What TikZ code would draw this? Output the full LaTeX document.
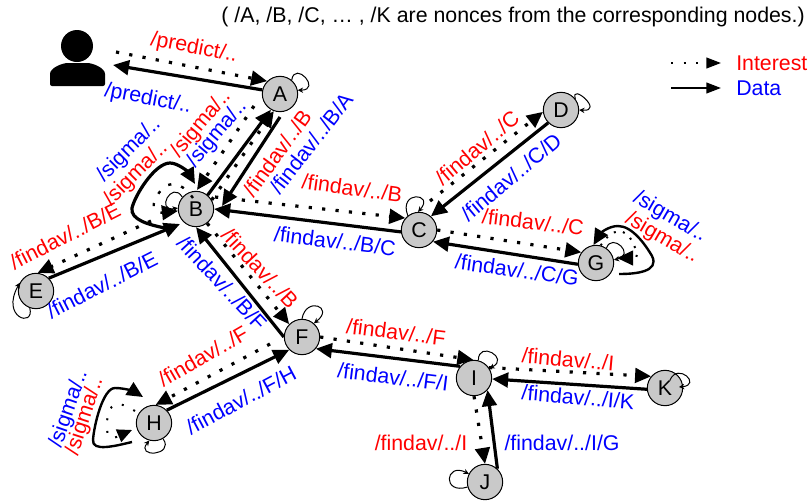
\documentclass[tikz,border=0pt]{standalone}
\usepackage{fontspec}
\setmainfont{Liberation Sans}
\usetikzlibrary{arrows.meta}
\tikzset{
  x=0.75pt,y=-0.75pt,
  nd/.style={circle,draw=black,line width=0.75pt,fill=black!21,minimum size=26.5pt,inner sep=0pt,font=\fontsize{16}{18}\selectfont},
  bigtip/.style={-{Triangle[length=12pt,width=11pt]}},
  intr/.style={bigtip,line width=2.4pt,dash pattern=on 2.4pt off 7.7pt},
  dat/.style={bigtip,line width=2.4pt},
  lp/.style={line width=0.75pt,-{Stealth[length=4pt,width=4pt]}},
  lab/.style={inner sep=0pt,font=\fontsize{16}{18}\selectfont},
  redl/.style={lab,text=red},
  blul/.style={lab,text=blue},
  blk/.style={lab,text=black}
}
\begin{document}
\begin{tikzpicture}
\useasboundingbox (0,0) rectangle (810,500);
% nodes
\node[nd] (A) at (280,94) {A};
\node[nd] (B) at (196,209) {B};
\node[nd] (C) at (419,230) {C};
\node[nd] (D) at (561,110) {D};
\node[nd] (E) at (36,291) {E};
\node[nd] (F) at (302,337) {F};
\node[nd] (G) at (596,263) {G};
\node[nd] (H) at (154,423) {H};
\node[nd] (I) at (474,378) {I};
\node[nd] (J) at (485,482) {J};
\node[nd] (K) at (665,388) {K};
% user icon
\node[circle,fill=black,minimum size=24pt,inner sep=0pt] (userhead) at (77,46) {};
\fill[rounded corners=1.5pt] (50,86) -- (50,76) .. controls (50,68) and (62,63) .. (70,63) -- (85,63) .. controls (93,63) and (105,68) .. (105,76) -- (105,86) -- cycle;
\coordinate (userIn) at (116,52);
\coordinate (userOut) at (113,65);
% self loops
\draw[lp] (A.50) .. controls (295,60) and (322,90) .. (A.12);
\draw[lp] (B.139) .. controls (172,180) and (155,212) .. (B.177);
\draw[lp] (C.128) .. controls (398,190) and (435,193) .. (C.93);
\draw[lp] (D.38) .. controls (570,82) and (605,112) .. (D.0);
\draw[lp] (E.250) .. controls (35,328) and (0,318) .. (E.153);
\draw[lp] (F.90) .. controls (306,296) and (335,307) .. (F.49);
\draw[lp] (G.55) .. controls (612,232) and (636,255) .. (G.10);
\draw[lp] (H.300) .. controls (175,456) and (135,458) .. (H.255);
\draw[lp] (I.76) .. controls (478,340) and (510,358) .. (I.32);
\draw[lp] (J.196) .. controls (442,495) and (445,462) .. (J.153);
\draw[lp] ([shift={(5,-8)}]K.center) .. controls (678,362) and (702,385) .. ([shift={(14,-1)}]K.center);
% connectors
\draw[intr] (userIn) -- (A.135);
\draw[dat] (A.167) -- (userOut);
\draw[intr] ([shift={(-26,12)}]A.center) -- ([shift={(1,-19)}]B.center);
\draw[dat] (B.50) -- (A.240);
\draw[intr] (B.30) -- (A.250);
\draw[dat] ([shift={(0,23)}]A.center) -- ([shift={(26,-3)}]B.center);
\draw[intr] ([shift={(19,-12)}]B.center) -- (C.139);
\draw[dat] (C.186) -- (B.0);
\draw[intr] ([shift={(11,-29)}]C.center) -- (D.186);
\draw[dat] (D.225) -- (C.49);
\draw[intr] (C.0) -- (G.144);
\draw[dat] (G.184) -- (C.320);
\draw[intr] ([shift={(-45,12)}]B.center) -- (E.85);
\draw[dat] (E.45) -- ([shift={(-16,15)}]B.center);
\draw[intr] (B.308) -- (F.135);
\draw[dat] (F.180) -- (B.270);
\draw[intr] ([shift={(-32,7)}]F.center) -- (H.85);
\draw[dat] (H.45) -- (F.225);
\draw[intr] (F.0) -- (I.92);
\draw[dat] (I.140) -- (F.320);
\draw[intr] (I.35) -- (K.140);
\draw[dat] (K.184) -- (I.357);
\draw[intr] (I.270) -- (J.90);
\draw[dat] (J.47) -- (I.318);
% sigma loops
\draw[dat] ([shift={(-31,19)}]B.center) .. controls (150,225) and (130,220) .. (132,208) .. controls (135,195) and (155,163) .. (170,163) .. controls (178,163) and (188,172) .. ([shift={(-1,-25)}]B.center);
\draw[intr,line width=1.8pt] ([shift={(-3,-11)}]B.center) .. controls (180,180) and (165,178) .. (155,200) .. controls (150,212) and (160,213) .. (B.186);
\draw[dat,line width=1.8pt] ([shift={(23,11)}]G.center) .. controls (635,274) and (660,272) .. (652,256) .. controls (645,244) and (632,226) .. (618,226) .. controls (608,226) and (600,234) .. (G.98);
\draw[intr,line width=1.5pt,dash pattern=on 1.5pt off 5.5pt] (G.75) .. controls (612,228) and (625,226) .. (633,243) .. controls (637,252) and (640,258) .. ([shift={(21,-5)}]G.center);
\draw[dat,line width=1.8pt] ([shift={(-22,19)}]H.center) .. controls (115,446) and (92,452) .. (93,440) .. controls (94,425) and (103,388) .. (115,388) .. controls (125,388) and (135,392) .. ([shift={(-11,-26)}]H.center);
\draw[-{Triangle[length=11pt,width=10pt]},line width=1.5pt,dash pattern=on 1.5pt off 8pt] ([shift={(-19,-12)}]H.center) .. controls (120,402) and (112,400) .. (108,415) .. controls (105,430) and (108,440) .. (113,438) .. controls (118,437) and (125,433) .. ([shift={(-22,7)}]H.center);
% labels
\node[redl,rotate=-11] (l1) at (194,48) {/predict/..};
\node[blul,rotate=-11] (l2) at (148,99) {/predict/..};
\node[redl,rotate=50] (l3) at (201,124) {/sigma/..};
\node[blul,rotate=50] (l4) at (217,134) {/sigma/..};
\node[blul,rotate=45] (l5) at (129,150) {/sigma/..};
\node[redl,rotate=45] (l6) at (136,174) {/sigma/..};
\node[redl,rotate=54] (l7) at (277,153) {/findav/../B};
\node[blul,rotate=52] (l8) at (311,143) {/findav/../B/A};
\node[redl,rotate=-8] (l9) at (352,188) {/findav/../B};
\node[blul,rotate=-7] (l10) at (335,241) {/findav/../B/C};
\node[redl,rotate=40] (l11) at (477,148) {/findav/../C};
\node[blul,rotate=40] (l12) at (511,177) {/findav/../C/D};
\node[redl,rotate=-7] (l13) at (533,222) {/findav/../C};
\node[blul,rotate=-8] (l14) at (517,270) {/findav/../C/G};
\node[blul,rotate=-30] (l15) at (670,217) {/sigma/..};
\node[redl,rotate=-30] (l16) at (662,238) {/sigma/..};
\node[redl,rotate=27] (l17) at (65,236) {/findav/../B/E};
\node[blul,rotate=27] (l18) at (102,285) {/findav/../B/E};
\node[blul,rotate=-47] (l19) at (222,283) {/findav/../B/F};
\node[redl,rotate=-47] (l20) at (260,268) {/findav/../B};
\node[redl,rotate=30] (l21) at (203,356) {/findav/../F};
\node[blul,rotate=28] (l22) at (241,400) {/findav/../F/H};
\node[blul,rotate=71] (l23) at (69,409) {/sigma/..};
\node[redl,rotate=72] (l24) at (85,416) {/sigma/..};
\node[redl,rotate=-7] (l25) at (396,332) {/findav/../F};
\node[blul,rotate=-7] (l26) at (393,377) {/findav/../F/I};
\node[redl,rotate=-5] (l27) at (568,359) {/findav/../I};
\node[blul,rotate=-5] (l28) at (578,397) {/findav/../I/K};
\node[redl] (l29) at (421,443) {/findav/../I};
\node[blul] (l30) at (562,443) {/findav/../I/G};
\node[blk,anchor=east] (note) at (805,17) {( /A, /B, /C, … , /K are nonces from the corresponding nodes.)};
% legend
\coordinate (leg1a) at (671,63);
\coordinate (leg1b) at (721,63);
\coordinate (leg2a) at (671,88);
\coordinate (leg2b) at (721,88);
\draw[-{Triangle[length=11pt,width=8pt]},line width=1.5pt,dash pattern=on 1.5pt off 8pt] (leg1a) -- (leg1b);
\draw[-{Triangle[length=11pt,width=8pt]},line width=1.5pt] (leg2a) -- (leg2b);
\node[redl,anchor=west] (legI) at (736,63) {Interest};
\node[blul,anchor=west] (legD) at (736,88) {Data};
\end{tikzpicture}
\end{document}
